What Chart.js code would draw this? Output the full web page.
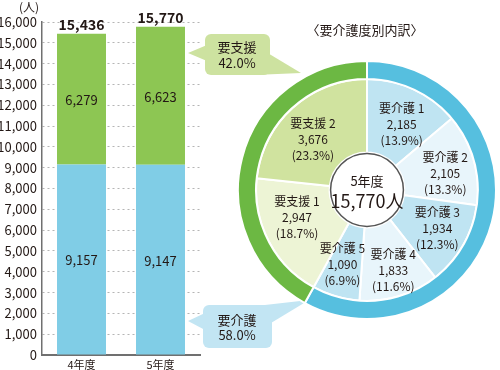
<!DOCTYPE html>
<html>
<head>
<meta charset="utf-8">
<script src="https://cdn.jsdelivr.net/npm/chart.js@4"></script>
<style>
html, body { margin: 0; padding: 0; background: #fff; }
#wrap { position: relative; width: 500px; height: 370px; }
#barChart { position: absolute; left: 0; top: 0; }
#pieChart { position: absolute; left: 237px; top: 60px; }
</style>
</head>
<body>
<div id="wrap">
  <canvas id="barChart" width="500" height="370"></canvas>
  <canvas id="pieChart" width="260" height="260"></canvas>
</div>
<script>
const years = ['4年度', '5年度'];
const careValues = [9157, 9147];     // 要介護
const supportValues = [6279, 6623];  // 要支援
const yMax = 16000;
const yStep = 1000;

const ringLabels = ['要介護', '要支援'];
const ringValues = [9147, 6623];
const breakdownLabels = ['要介護 1', '要介護 2', '要介護 3', '要介護 4', '要介護 5', '要支援 1', '要支援 2'];
const breakdownValues = [2185, 2105, 1934, 1833, 1090, 2947, 3676];

// ラベル位置の微調整 (半径px, 角度のずれ deg)
const labelRadius = [74, 80, 80, 85, 78, 75, 74];
const labelNudge = [3, 4, -1.5, -1, 2, 6.5, -5];

const FONT = '"Noto Sans CJK JP", "Noto Sans", sans-serif';
const TEXT = '#231815';
const fmt = v => v.toLocaleString('en-US');

function roundRect(ctx, x, y, w, h, r) {
    ctx.beginPath();
    ctx.moveTo(x + r, y);
    ctx.arcTo(x + w, y, x + w, y + h, r);
    ctx.arcTo(x + w, y + h, x, y + h, r);
    ctx.arcTo(x, y + h, x, y, r);
    ctx.arcTo(x, y, x + w, y, r);
    ctx.closePath();
    ctx.fill();
}

function tri(ctx, pts) {
    ctx.beginPath();
    ctx.moveTo(pts[0][0], pts[0][1]);
    ctx.lineTo(pts[1][0], pts[1][1]);
    ctx.lineTo(pts[2][0], pts[2][1]);
    ctx.closePath();
    ctx.fill();
}

// バーの数値・吹き出し・タイトル
const barLabels = {
    id: 'barLabels',
    afterDatasetsDraw(chart) {
        const ctx = chart.ctx;
        ctx.save();
        ctx.fillStyle = TEXT;
        ctx.textAlign = 'center';
        ctx.textBaseline = 'middle';
        ctx.font = '13px ' + FONT;
        chart.data.datasets.forEach((ds, di) => {
            chart.getDatasetMeta(di).data.forEach((bar, i) => {
                ctx.fillText(fmt(ds.data[i]), bar.x, (bar.y + bar.base) / 2 + 1);
            });
        });
        ctx.font = 'bold 14px ' + FONT;
        ctx.textBaseline = 'bottom';
        chart.getDatasetMeta(1).data.forEach((bar, i) => {
            ctx.fillText(fmt(careValues[i] + supportValues[i]), bar.x, bar.y - 2);
        });
        ctx.restore();
    },
    afterDraw(chart) {
        const ctx = chart.ctx;
        const total = ringValues[0] + ringValues[1];
        ctx.save();
        ctx.fillStyle = TEXT;
        ctx.textAlign = 'center';
        ctx.textBaseline = 'middle';
        ctx.font = '12px ' + FONT;
        ctx.fillText('(人)', 29, 7);
        ctx.font = '13px ' + FONT;
        ctx.fillText('〈要介護度別内訳〉', 365, 30);

        // 要支援の吹き出し
        ctx.fillStyle = '#cde2a0';
        roundRect(ctx, 205, 34, 65, 41, 6);
        tri(ctx, [[207, 45], [188, 53], [207, 61]]);
        tri(ctx, [[266, 52], [301, 73], [254, 75]]);
        // 要介護の吹き出し
        ctx.fillStyle = '#c2e5f3';
        roundRect(ctx, 203, 305, 69, 43, 6);
        tri(ctx, [[205, 313], [188, 321], [205, 330]]);
        tri(ctx, [[256, 306], [309, 300], [271, 323]]);

        ctx.fillStyle = TEXT;
        ctx.font = '13px ' + FONT;
        ctx.fillText(ringLabels[1], 237, 47);
        ctx.fillText((ringValues[1] / total * 100).toFixed(1) + '%', 237, 63);
        ctx.fillText(ringLabels[0], 237, 320);
        ctx.fillText((ringValues[0] / total * 100).toFixed(1) + '%', 237, 335);
        ctx.restore();
    }
};

new Chart(document.getElementById('barChart'), {
    type: 'bar',
    data: {
        labels: years,
        datasets: [
            { label: '要介護', data: careValues, backgroundColor: '#80cde6', borderWidth: 0 },
            { label: '要支援', data: supportValues, backgroundColor: '#8dc653', borderWidth: 0 }
        ]
    },
    options: {
        responsive: false,
        animation: false,
        barPercentage: 0.62,
        categoryPercentage: 1,
        layout: { padding: { left: 0, right: 300, top: 22, bottom: 0 } },
        plugins: { legend: { display: false }, tooltip: { enabled: false } },
        scales: {
            x: {
                stacked: true,
                grid: { display: false, drawTicks: false },
                border: { color: '#707070', width: 2 },
                ticks: { color: TEXT, font: { size: 11, family: FONT }, padding: 3 },
                afterFit: s => { s.height = 15; }
            },
            y: {
                stacked: true,
                min: 0,
                max: yMax,
                grid: { color: '#b5b5b5', drawTicks: false },
                border: { color: '#707070', width: 1.5, dash: [2, 3] },
                ticks: {
                    stepSize: yStep,
                    color: TEXT,
                    padding: 5,
                    font: { size: 13, family: FONT },
                    callback: v => fmt(v)
                },
                afterFit: s => { s.width = 42; }
            }
        }
    },
    plugins: [barLabels]
});

// 円グラフのラベルと中央の円
const pieLabels = {
    id: 'pieLabels',
    afterDatasetsDraw(chart) {
        const ctx = chart.ctx;
        const meta = chart.getDatasetMeta(1);
        const total = breakdownValues.reduce((a, b) => a + b, 0);
        ctx.save();
        ctx.fillStyle = TEXT;
        ctx.textAlign = 'center';
        ctx.textBaseline = 'middle';
        ctx.font = '12px ' + FONT;
        meta.data.forEach((arc, i) => {
            const mid = (arc.startAngle + arc.endAngle) / 2 + labelNudge[i] * Math.PI / 180;
            const r = labelRadius[i];
            const x = arc.x + r * Math.cos(mid);
            const y = arc.y + r * Math.sin(mid);
            ctx.fillText(breakdownLabels[i], x, y - 16);
            ctx.fillText(fmt(breakdownValues[i]), x, y);
            ctx.fillText('(' + (breakdownValues[i] / total * 100).toFixed(1) + '%)', x, y + 16);
        });

        const a = meta.data[0];
        ctx.beginPath();
        ctx.arc(a.x, a.y, a.innerRadius - 1, 0, Math.PI * 2);
        ctx.fillStyle = '#fff';
        ctx.fill();
        ctx.lineWidth = 1.5;
        ctx.strokeStyle = '#555';
        ctx.stroke();
        ctx.fillStyle = TEXT;
        ctx.font = '13px ' + FONT;
        ctx.fillText('5年度', a.x, a.y - 9);
        ctx.font = '18px ' + FONT;
        ctx.fillText(fmt(total) + '人', a.x, a.y + 11);
        ctx.restore();
    }
};

new Chart(document.getElementById('pieChart'), {
    type: 'doughnut',
    data: {
        labels: breakdownLabels,
        datasets: [
            {
                data: ringValues,
                backgroundColor: ['#56bfdf', '#6cb843'],
                borderColor: '#fff',
                borderWidth: 2,
                weight: 18
            },
            {
                data: breakdownValues,
                backgroundColor: ['#bfe4f2', '#e8f5fb', '#bfe4f2', '#e8f5fb', '#bfe4f2', '#edf4d5', '#d0e39f'],
                borderColor: '#fff',
                borderWidth: 2,
                weight: 73
            }
        ]
    },
    options: {
        responsive: false,
        animation: false,
        cutout: '29%',
        plugins: { legend: { display: false }, tooltip: { enabled: false } }
    },
    plugins: [pieLabels]
});
</script>
</body>
</html>
